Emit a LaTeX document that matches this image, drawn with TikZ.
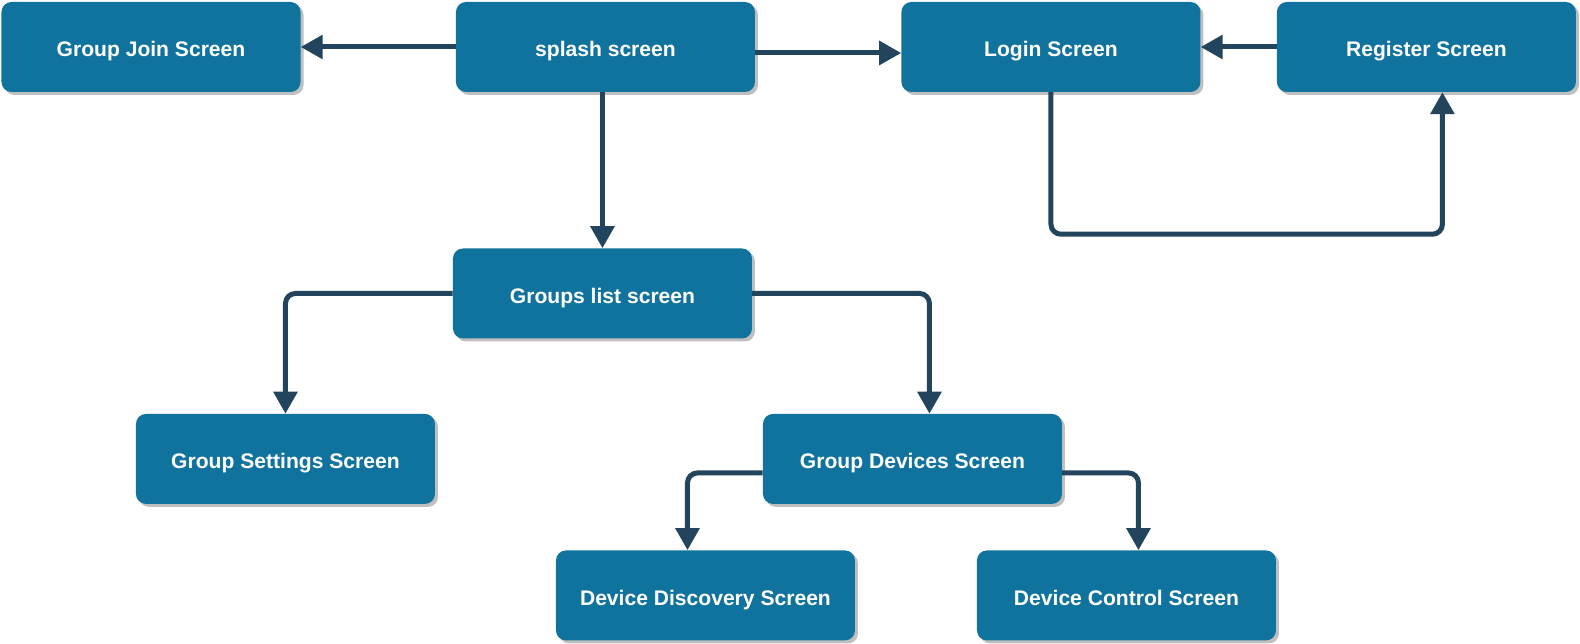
\documentclass[tikz,border=0pt]{standalone}
\usepackage{fontspec}
\setmainfont{Liberation Sans}
\usepackage{tikz}
\usetikzlibrary{arrows.meta, positioning, shadows}
\definecolor{screenblue}{RGB}{16, 115, 158}
\definecolor{linkdark}{RGB}{35, 68, 93}

\begin{document}
\begin{tikzpicture}[
    node distance=2.25cm,
    screen/.style={fill=screenblue, rounded corners=0.3cm, minimum width=8.97cm, minimum height=2.7cm, align=center, text=white, text height=16.5pt, text depth=0pt, font=\fontsize{18}{21}\selectfont\bfseries, drop shadow={shadow xshift=0.09cm, shadow yshift=-0.09cm, fill=black!25, opacity=1}},
    arrow/.style={-{Triangle[length=0.66cm, width=0.7cm]}, line width=0.15cm, draw=linkdark, rounded corners=0.3cm}
]
\useasboundingbox (0,0) rectangle (47.4,-19.32);

% Top row
\node[screen] (joinscr) at (4.53,-1.41) {Group Join Screen};
\node[screen, right=4.65cm of joinscr] (splash) {splash screen};
\node[screen, right=4.38cm of splash] (login) {Login Screen};
\node[screen, right=2.28cm of login] (register) {Register Screen};

% Groups
\node[screen, below=4.68cm of splash, xshift=-0.09cm] (groups) {Groups list screen};
\node[screen, below=of groups, xshift=-9.51cm] (settings) {Group Settings Screen};
\node[screen, below=of groups, xshift=9.3cm] (devices) {Group Devices Screen};

% Devices
\node[screen, below=1.38cm of devices, xshift=-6.21cm] (discovery) {Device Discovery Screen};
\node[screen, below=1.38cm of devices, xshift=6.42cm] (control) {Device Control Screen};

% Arrows
\draw[arrow] (splash.west) -- (joinscr.east);
\draw[arrow] ([yshift=-0.18cm]splash.east) -- ([yshift=-0.18cm]login.west);
\draw[arrow] (register.west) -- (login.east);
\draw[arrow] (splash.south -| groups.north) -- (groups.north);
\draw[arrow] (login.south) -- ([yshift=-4.26cm]login.south) -| ([xshift=0.48cm]register.south);
\draw[arrow] (groups.west) -| (settings.north);
\draw[arrow] (groups.east) -| ([xshift=0.51cm]devices.north);
\draw[arrow] ([yshift=-0.42cm]devices.west) -| ([xshift=-0.54cm]discovery.north);
\draw[arrow] ([yshift=-0.42cm]devices.east) -| ([xshift=0.36cm]control.north);

\end{tikzpicture}
\end{document}
